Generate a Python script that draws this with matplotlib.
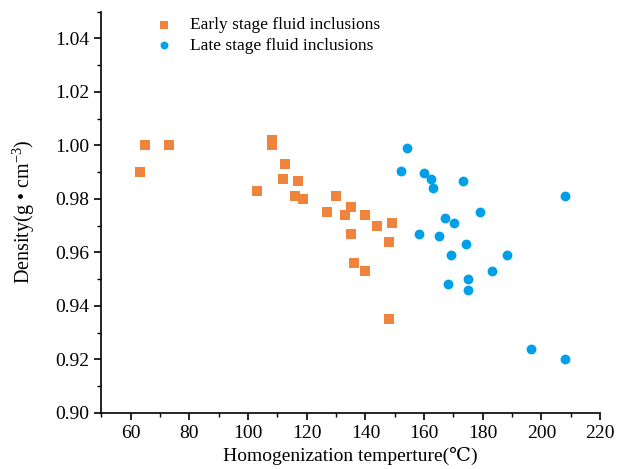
import matplotlib
matplotlib.use('Agg')
import matplotlib.pyplot as plt
from matplotlib.ticker import MultipleLocator

plt.rcParams['font.family'] = ['Liberation Serif', 'DejaVu Serif']
plt.rcParams['mathtext.fontset'] = 'custom'
plt.rcParams['mathtext.rm'] = 'Liberation Serif'

# early stage fluid inclusions
early_t = [63, 65, 73, 103, 108, 108, 112.7, 111.9, 117.1, 116, 118.7, 127, 130,
           133, 135, 135, 136, 140, 140, 144, 148, 149, 148]
early_d = [0.990, 1.000, 1.000, 0.983, 1.002, 1.000, 0.993, 0.9875, 0.9865, 0.981,
           0.980, 0.975, 0.981, 0.974, 0.977, 0.967, 0.956, 0.974, 0.953, 0.970,
           0.964, 0.971, 0.935]

# late stage fluid inclusions
late_t = [154.3, 152.2, 160.1, 162.2, 163, 173.2, 208.2, 167.2, 170.1, 179.2, 158.2,
          165.2, 174.2, 169.2, 188.2, 183.2, 175.1, 175.1, 168.2, 196.3, 208.2]
late_d = [0.999, 0.9905, 0.9895, 0.9875, 0.984, 0.9865, 0.981, 0.973, 0.971, 0.975,
          0.967, 0.966, 0.963, 0.959, 0.959, 0.953, 0.950, 0.946, 0.948, 0.924, 0.920]

fig = plt.figure(figsize=(6.17, 4.69), dpi=100)
ax = fig.add_axes([0.1645, 0.120, 0.808, 0.855])

ax.scatter(early_t, early_d, marker='s', s=42, color='#F0843C', linewidths=0,
           label='Early stage fluid inclusions', zorder=3)
ax.scatter(late_t, late_d, marker='o', s=50, color='#00A0E9', linewidths=0,
           label='Late stage fluid inclusions', zorder=3)

ax.set_xlim(50, 220)
ax.set_ylim(0.90, 1.05)
ax.set_xticks(range(60, 221, 20))
ax.set_yticks([0.90, 0.92, 0.94, 0.96, 0.98, 1.00, 1.02, 1.04])
ax.set_yticklabels(['%.2f' % v for v in ax.get_yticks()])
ax.xaxis.set_minor_locator(MultipleLocator(10))
ax.yaxis.set_minor_locator(MultipleLocator(0.01))
ax.tick_params(which='major', direction='out', length=5, width=1.2, labelsize=14)
ax.tick_params(which='minor', direction='out', length=3, width=1)

ax.spines['top'].set_visible(False)
ax.spines['right'].set_visible(False)
ax.spines['left'].set_linewidth(1.2)
ax.spines['bottom'].set_linewidth(1.2)

ax.set_xlabel('Homogenization temperture(\u2103)', fontsize=14, labelpad=4)
ax.set_ylabel('Density(g \u2022 cm$^{-3}$)', fontsize=14.5, labelpad=13)

ax.legend(loc='upper left', bbox_to_anchor=(0.06, 1.025), frameon=False,
          fontsize=12.5, handletextpad=0.5, labelspacing=0.25, markerscale=0.8)

fig.savefig('out.png', dpi=100)
